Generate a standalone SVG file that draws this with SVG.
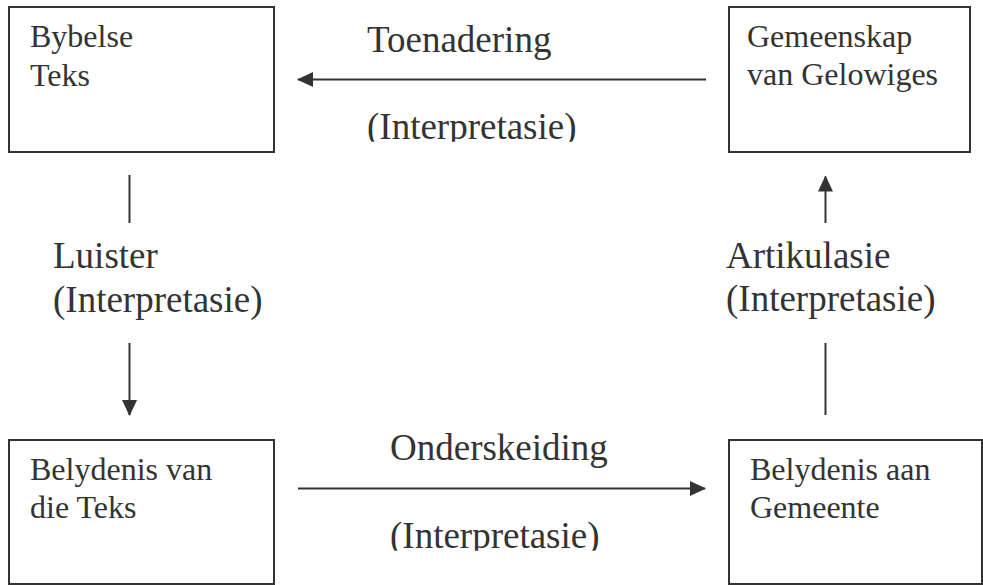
<svg xmlns="http://www.w3.org/2000/svg" width="983" height="585" viewBox="0 0 983 585">
<style>
.box{fill:#fff;stroke:#333;stroke-width:2}
.bt{font-family:"Liberation Serif","Times New Roman",serif;font-size:32px;fill:#333}
.lb{font-family:"Liberation Serif","Times New Roman",serif;font-size:37px;fill:#333}
.ln{stroke:#333;stroke-width:2;fill:none}
</style>
<defs>
<marker id="ah" viewBox="0 0 16 16" refX="15" refY="8" markerWidth="16" markerHeight="16" markerUnits="userSpaceOnUse" orient="auto">
<path d="M0,0.5 L16,8 L0,15.5 Z" fill="#333"/>
</marker>
<clipPath id="c1"><rect x="300" y="100" width="400" height="41.7"/></clipPath>
<clipPath id="c2"><rect x="300" y="510" width="400" height="40.7"/></clipPath>
</defs>
<rect width="983" height="585" fill="#fff"/>
<g id="bybelse-teks">
<rect class="box" x="9" y="7" width="265" height="145"/>
<text class="bt" x="30" y="47">Bybelse</text>
<text class="bt" x="30" y="86">Teks</text>
</g>
<g id="gemeenskap">
<rect class="box" x="729" y="7" width="241" height="145"/>
<text class="bt" x="747" y="47">Gemeenskap</text>
<text class="bt" x="747" y="85">van Gelowiges</text>
</g>
<g id="belydenis-teks">
<rect class="box" x="9" y="440" width="265" height="144"/>
<text class="bt" x="30" y="480">Belydenis van</text>
<text class="bt" x="30" y="518">die Teks</text>
</g>
<g id="belydenis-gemeente">
<rect class="box" x="729" y="440" width="253" height="144"/>
<text class="bt" x="750" y="480">Belydenis aan</text>
<text class="bt" x="750" y="518">Gemeente</text>
</g>
<g id="connectors">
<line class="ln" x1="706" y1="79.5" x2="298" y2="79.5" marker-end="url(#ah)"/>
<line class="ln" x1="298" y1="488.5" x2="705" y2="488.5" marker-end="url(#ah)"/>
<line class="ln" x1="129.5" y1="175" x2="129.5" y2="223"/>
<line class="ln" x1="129.5" y1="343" x2="129.5" y2="415" marker-end="url(#ah)"/>
<line class="ln" x1="825.5" y1="415" x2="825.5" y2="343"/>
<line class="ln" x1="825.5" y1="223" x2="825.5" y2="176.5" marker-end="url(#ah)"/>
</g>
<g id="labels">
<text class="lb" x="367" y="52">Toenadering</text>
<text class="lb" x="367" y="138.5" clip-path="url(#c1)">(Interpretasie)</text>
<text class="lb" x="390" y="460">Onderskeiding</text>
<text class="lb" x="390" y="547.5" clip-path="url(#c2)">(Interpretasie)</text>
<text class="lb" x="53" y="268">Luister</text>
<text class="lb" x="53" y="311.5">(Interpretasie)</text>
<text class="lb" x="726" y="267.5">Artikulasie</text>
<text class="lb" x="726" y="310.5">(Interpretasie)</text>
</g>
</svg>
